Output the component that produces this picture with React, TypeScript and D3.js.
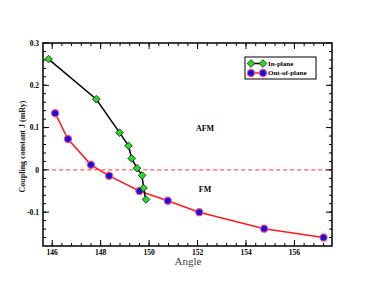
import { useEffect, useRef } from 'react';
import * as d3 from 'd3';

// In-plane (green diamonds)
const inAngle = [145.85, 147.82, 148.78, 149.15, 149.28, 149.5, 149.71, 149.77, 149.87];
const inJ = [0.262, 0.167, 0.088, 0.057, 0.027, 0.004, -0.013, -0.043, -0.07];

// Out-of-plane (blue circles)
const outAngle = [146.12, 146.65, 147.6, 148.35, 149.6, 150.77, 152.07, 154.75, 157.2];
const outJ = [0.134, 0.073, 0.012, -0.014, -0.05, -0.073, -0.1, -0.139, -0.16];

const xTicks = [146, 148, 150, 152, 154, 156];
const yTicks = [-0.1, 0, 0.1, 0.2, 0.3];
const seriesNames = ['In-plane', 'Out-of-plane'];

export default function App() {
  const ref = useRef<SVGSVGElement>(null);

  useEffect(() => {
    if (!ref.current) return;
    const svg = d3.select(ref.current);
    svg.selectAll('*').remove();

    const W = 374;
    const H = 289;
    const L = 43, R = 332, T = 43, B = 246;

    const x = d3.scaleLinear().domain([145.62, 157.55]).range([L, R]);
    const y = d3.scaleLinear().domain([-0.18, 0.3]).range([B, T]);
    const serif = 'Times New Roman, Liberation Serif, serif';

    // minor ticks
    const xMinor = d3.range(145.6, 157.6, 0.4);
    const yMinor = d3.range(-0.18, 0.3001, 0.02);
    const tg = svg.append('g').attr('stroke', '#000').attr('stroke-width', 1);
    xMinor.forEach((v) => {
      const px = x(v);
      if (px < L + 1 || px > R - 1) return;
      tg.append('line').attr('x1', px).attr('x2', px).attr('y1', B).attr('y2', B - 3);
      tg.append('line').attr('x1', px).attr('x2', px).attr('y1', T).attr('y2', T + 3);
    });
    yMinor.forEach((v) => {
      const py = y(v);
      if (py < T + 1 || py > B - 1) return;
      tg.append('line').attr('x1', L).attr('x2', L + 3).attr('y1', py).attr('y2', py);
      tg.append('line').attr('x1', R).attr('x2', R - 3).attr('y1', py).attr('y2', py);
    });
    xTicks.forEach((v) => {
      const px = x(v);
      tg.append('line').attr('x1', px).attr('x2', px).attr('y1', B).attr('y2', B - 6);
      tg.append('line').attr('x1', px).attr('x2', px).attr('y1', T).attr('y2', T + 6);
      svg.append('text')
        .attr('x', px).attr('y', B + 8.5)
        .attr('text-anchor', 'middle')
        .attr('font-family', serif).attr('font-weight', 'bold').attr('font-size', 7.5)
        .text(String(v));
    });
    yTicks.forEach((v) => {
      const py = y(v);
      tg.append('line').attr('x1', L).attr('x2', L + 6).attr('y1', py).attr('y2', py);
      tg.append('line').attr('x1', R).attr('x2', R - 6).attr('y1', py).attr('y2', py);
      svg.append('text')
        .attr('x', L - 4).attr('y', py).attr('dy', '0.35em')
        .attr('text-anchor', 'end')
        .attr('font-family', serif).attr('font-weight', 'bold').attr('font-size', 7.5)
        .text(v === 0 ? '0' : String(v));
    });

    // zero line
    svg.append('line')
      .attr('x1', x(146)).attr('x2', R)
      .attr('y1', y(0)).attr('y2', y(0))
      .attr('stroke', '#ff3030').attr('stroke-width', 1).attr('stroke-dasharray', '4,3');

    // frame
    svg.append('rect')
      .attr('x', L).attr('y', T).attr('width', R - L).attr('height', B - T)
      .attr('fill', 'none').attr('stroke', '#000').attr('stroke-width', 1.5);

    const inPts = inAngle.map((a, i) => [x(a), y(inJ[i])] as [number, number]);
    const outPts = outAngle.map((a, i) => [x(a), y(outJ[i])] as [number, number]);
    const lg = d3.line<[number, number]>().x((d) => d[0]).y((d) => d[1]);

    svg.append('path').attr('d', lg(outPts)).attr('fill', 'none').attr('stroke', '#ff1a1a').attr('stroke-width', 1.5);
    svg.append('path').attr('d', lg(inPts)).attr('fill', 'none').attr('stroke', '#000').attr('stroke-width', 1.5);

    const diamond = (g: any, px: number, py: number) =>
      g.append('path')
        .attr('d', `M${px},${py - 3.8}L${px + 3.8},${py}L${px},${py + 3.8}L${px - 3.8},${py}Z`)
        .attr('fill', '#22dd22').attr('stroke', '#111').attr('stroke-width', 0.8);
    const circle = (g: any, px: number, py: number) =>
      g.append('circle').attr('cx', px).attr('cy', py).attr('r', 3.6)
        .attr('fill', '#1010ee').attr('stroke', '#ff5070').attr('stroke-width', 1.2);

    outPts.forEach(([px, py]) => circle(svg, px, py));
    inPts.forEach(([px, py]) => diamond(svg, px, py));

    // legend
    const lgx = 245, lgy = 57;
    svg.append('rect').attr('x', lgx).attr('y', lgy).attr('width', 71).attr('height', 22)
      .attr('fill', '#fff').attr('stroke', '#000').attr('stroke-width', 1);
    seriesNames.forEach((name, i) => {
      const yy = lgy + 6.5 + i * 9.5;
      svg.append('line').attr('x1', 251).attr('x2', 263).attr('y1', yy).attr('y2', yy)
        .attr('stroke', i === 0 ? '#000' : '#ff1a1a').attr('stroke-width', 1.5);
      if (i === 0) { diamond(svg, 251, yy); diamond(svg, 263, yy); }
      else { circle(svg, 251, yy); circle(svg, 263, yy); }
      svg.append('text').attr('x', 268).attr('y', yy).attr('dy', '0.35em')
        .attr('font-family', serif).attr('font-weight', 'bold').attr('font-size', 7)
        .text(name);
    });

    svg.append('text').attr('x', 205).attr('y', 128).attr('dy', '0.35em').attr('text-anchor', 'middle')
      .attr('font-family', serif).attr('font-weight', 'bold').attr('font-size', 8).text('AFM');
    svg.append('text').attr('x', 205).attr('y', 189).attr('dy', '0.35em').attr('text-anchor', 'middle')
      .attr('font-family', serif).attr('font-weight', 'bold').attr('font-size', 8).text('FM');

    svg.append('text').attr('x', 188).attr('y', 265).attr('text-anchor', 'middle')
      .attr('font-family', serif).attr('font-size', 11).attr('fill', '#444').text('Angle');
    svg.append('text')
      .attr('transform', `translate(22,${(T + B) / 2 + 2}) rotate(-90)`)
      .attr('text-anchor', 'middle').attr('dy', '0.35em')
      .attr('font-family', serif).attr('font-weight', 'bold').attr('font-size', 8).attr('fill', '#222')
      .text('Coupling constant J (mRy)');

    svg.attr('viewBox', `0 0 ${W} ${H}`).attr('width', W).attr('height', H);
  }, []);

  return (
    <svg
      ref={ref}
      style={{ position: 'fixed', left: 0, top: 0, display: 'block', background: '#fff' }}
    />
  );
}
